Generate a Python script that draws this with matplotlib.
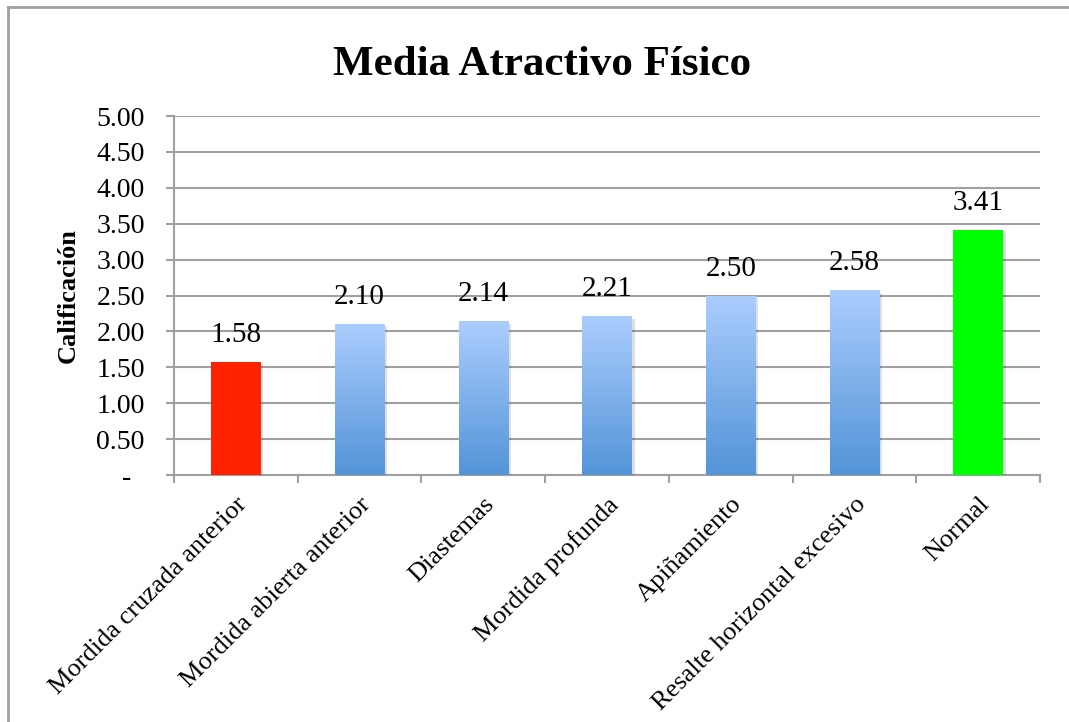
import numpy as np
import matplotlib
matplotlib.use("Agg")
import matplotlib.pyplot as plt
import matplotlib.patheffects as pe
from matplotlib.ticker import FuncFormatter, FixedLocator
from matplotlib.colors import LinearSegmentedColormap

categorias = ["Mordida cruzada anterior", "Mordida abierta anterior", "Diastemas",
              "Mordida profunda", "Apiñamiento", "Resalte horizontal excesivo", "Normal"]
medias = [1.58, 2.10, 2.14, 2.21, 2.50, 2.58, 3.41]
etiquetas = ["1.58", "2.10", "2.14", "2.21", "2.50", "2.58", "3.41"]

plt.rcParams['font.family'] = ['Liberation Serif', 'DejaVu Serif']

fig = plt.figure(figsize=(10.69, 7.22), dpi=100)
ax = fig.add_axes([0.1628, 0.3421, 0.9729 - 0.1628, 0.8393 - 0.3421])

gris = '#a0a0a0'
x = np.arange(len(categorias))
barras = ax.bar(x, medias, width=0.4, color='none', zorder=3,
                path_effects=[pe.SimplePatchShadow(offset=(2, -2), shadow_rgbFace='#000000', alpha=0.12),
                              pe.Normal()])

# rellenos: rojo, degradado azul, verde
degradado = LinearSegmentedColormap.from_list('azul', ['#5394d8', '#abcdfe'])
grad = np.linspace(0, 1, 256).reshape(-1, 1)
for i, b in enumerate(barras):
    if i == 0:
        b.set_facecolor('#ff2200')
    elif i == len(barras) - 1:
        b.set_facecolor('#00ff00')
    else:
        x0, w, h = b.get_x(), b.get_width(), b.get_height()
        im = ax.imshow(grad, cmap=degradado, origin='lower', aspect='auto',
                       extent=[x0, x0 + w, 0, h], zorder=3.5)
        im.set_clip_path(b)

for xi, v, t in zip(x, medias, etiquetas):
    ax.annotate(t, (xi, v), xytext=(0, 10), textcoords='offset points',
                ha='center', va='bottom', fontsize=21, zorder=5)

ax.set_xlim(-0.5, len(categorias) - 0.5)
ax.set_ylim(0, 5)
ax.set_yticks(np.arange(0, 5.01, 0.5))
# formato contable: el cero se muestra como un guion
ax.yaxis.set_major_formatter(FuncFormatter(lambda v, p: '-\u2007' if v == 0 else f'{v:.2f}'))
ax.grid(axis='y', color=gris, linewidth=1.5, zorder=0)
ax.set_axisbelow(True)

ax.set_xticks(x)
ax.set_xticklabels(categorias, rotation=45, ha='right', va='top',
                   rotation_mode='anchor', fontsize=19)
ax.xaxis.set_minor_locator(FixedLocator(np.arange(-0.5, len(categorias), 1.0)))
ax.tick_params(axis='x', which='major', length=0, pad=13)
ax.tick_params(axis='x', which='minor', length=6, width=1.5, color=gris)
ax.tick_params(axis='y', length=6, width=1.5, color=gris, labelsize=20, pad=15)

for s in ['top', 'right']:
    ax.spines[s].set_visible(False)
for s in ['left', 'bottom']:
    ax.spines[s].set_color(gris)
    ax.spines[s].set_linewidth(1.5)

fig.text(0.507, 0.91, 'Media Atractivo Físico', ha='center', va='center',
         fontsize=31, fontweight='bold')
fig.text(0.0636, 0.59, 'Calificación', ha='center', va='center', rotation=90,
         fontsize=19, fontweight='bold')

# marco del gráfico
fig.add_artist(plt.Line2D([8 / 1069, 1.0], [1 - 7 / 722, 1 - 7 / 722], color=gris, linewidth=2,
                          transform=fig.transFigure))
fig.add_artist(plt.Line2D([8 / 1069, 8 / 1069], [0, 1 - 7 / 722], color=gris, linewidth=2,
                          transform=fig.transFigure))

fig.savefig('out.png', dpi=100)
